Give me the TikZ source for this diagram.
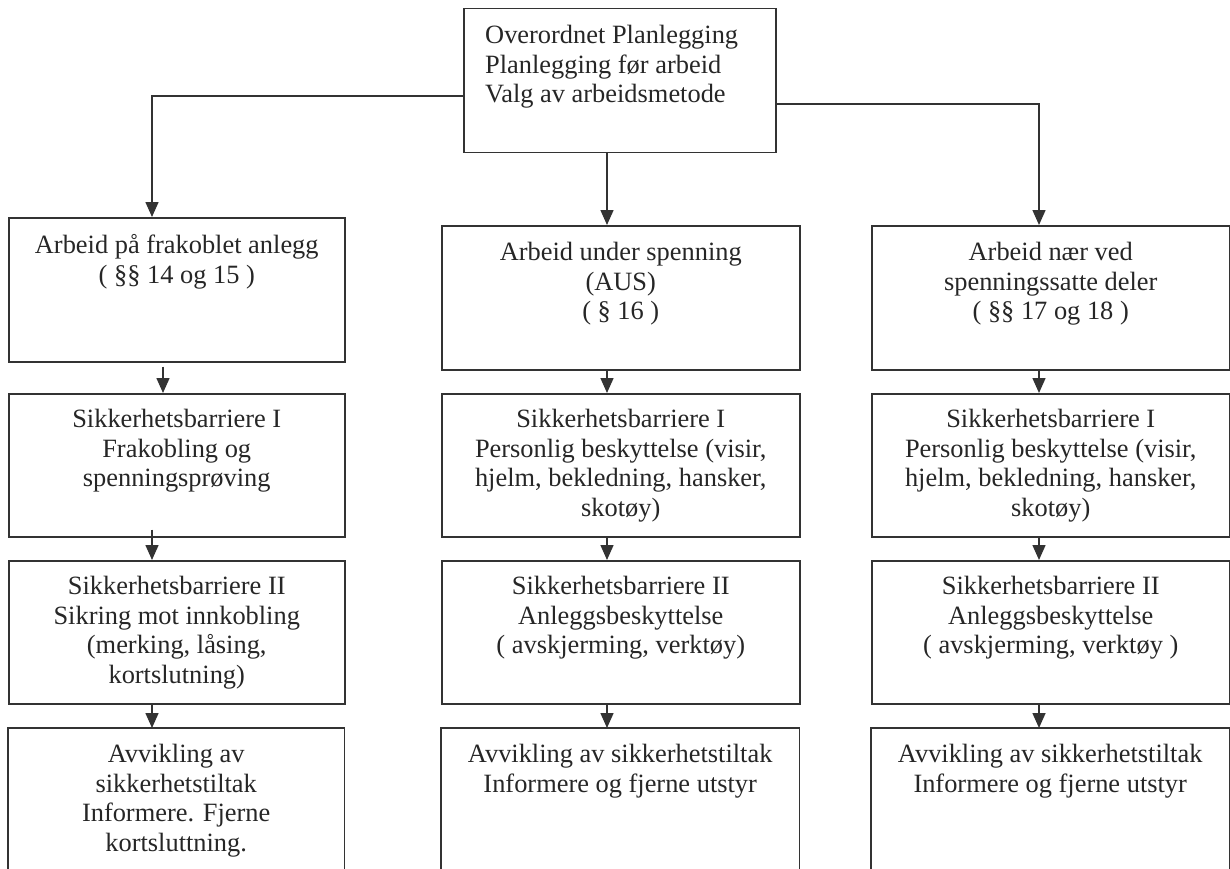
\documentclass[tikz,border=0pt]{standalone}
\usepackage{fontspec}
\setmainfont{Liberation Serif}
\usetikzlibrary{arrows.meta}
\begin{document}
\begin{tikzpicture}[x=1pt,y=-1pt,
  box/.style={draw=black!80,line width=1.5pt,inner sep=0,anchor=north west},
  txt/.style={inner sep=0,anchor=north,align=center,font=\fontsize{26.4}{29.7}\selectfont,text=black!85},
  arr/.style={draw=black!80,line width=1.5pt,-{Triangle[length=15pt,width=13pt]}}]
\useasboundingbox (0,0) rectangle (1230,869);
% boxes
\node[box,minimum width=312pt,minimum height=144pt] (top) at (463,8) {};
\node[box,minimum width=336pt,minimum height=144pt] (l1) at (8,217) {};
\node[box,minimum width=358pt,minimum height=144pt] (m1) at (441,225) {};
\node[box,minimum width=358pt,minimum height=144pt] (r1) at (871,225) {};
\node[box,minimum width=336pt,minimum height=143pt] (l2) at (8,393) {};
\node[box,minimum width=358pt,minimum height=143pt] (m2) at (441,393) {};
\node[box,minimum width=358pt,minimum height=143pt] (r2) at (871,393) {};
\node[box,minimum width=336pt,minimum height=143pt] (l3) at (8,560) {};
\node[box,minimum width=358pt,minimum height=143pt] (m3) at (441,560) {};
\node[box,minimum width=358pt,minimum height=143pt] (r3) at (871,560) {};
\node[inner sep=0,anchor=north west,minimum width=336pt,minimum height=141pt] (l4) at (8,728) {};
\node[inner sep=0,anchor=north west,minimum width=358pt,minimum height=141pt] (m4) at (441,728) {};
\node[inner sep=0,anchor=north west,minimum width=358pt,minimum height=141pt] (r4) at (871,728) {};
\foreach \b in {l4,m4,r4}
  \draw[draw=black!80,line width=1.5pt] ([yshift=-2pt]\b.south west) -- (\b.north west) -- (\b.north east) -- ([yshift=-2pt]\b.south east);
% texts
\node[txt,anchor=north west,align=left] (ttop) at ([xshift=22pt,yshift=-17pt]top.north west)
  {Overordnet Planlegging\\Planlegging før arbeid\\Valg av arbeidsmetode};
\node[txt] (tl1) at ([yshift=-17pt]l1.north) {Arbeid på frakoblet anlegg\\( §§ 14 og 15 )};
\node[txt] (tm1) at ([yshift=-17pt]m1.north) {Arbeid under spenning\\(AUS)\\( § 16 )};
\node[txt] (tr1) at ([yshift=-17pt]r1.north) {Arbeid nær ved\\spenningssatte deler\\( §§ 17 og 18 )};
\node[txt] (tl2) at ([yshift=-16pt]l2.north) {Sikkerhetsbarriere I\\Frakobling og\\spenningsprøving};
\node[txt] (tm2) at ([yshift=-16pt]m2.north) {Sikkerhetsbarriere I\\Personlig beskyttelse (visir,\\hjelm, bekledning, hansker,\\skotøy)};
\node[txt] (tr2) at ([yshift=-16pt]r2.north) {Sikkerhetsbarriere I\\Personlig beskyttelse (visir,\\hjelm, bekledning, hansker,\\skotøy)};
\node[txt] (tl3) at ([yshift=-16pt]l3.north) {Sikkerhetsbarriere II\\Sikring mot innkobling\\(merking, låsing,\\kortslutning)};
\node[txt] (tm3) at ([yshift=-16pt]m3.north) {Sikkerhetsbarriere II\\Anleggsbeskyttelse\\( avskjerming, verktøy)};
\node[txt] (tr3) at ([yshift=-16pt]r3.north) {Sikkerhetsbarriere II\\Anleggsbeskyttelse\\( avskjerming, verktøy )};
\node[txt] (tl4) at ([yshift=-16pt]l4.north) {Avvikling av\\sikkerhetstiltak\\Informere. Fjerne\\kortsluttning.};
\node[txt] (tm4) at ([yshift=-16pt]m4.north) {Avvikling av sikkerhetstiltak\\Informere og fjerne utstyr};
\node[txt] (tr4) at ([yshift=-16pt]r4.north) {Avvikling av sikkerhetstiltak\\Informere og fjerne utstyr};
% column coordinates
\coordinate (cl) at (152,0);
\coordinate (cla) at (163,0);
\coordinate (cm) at (607,0);
\coordinate (cr) at (1039,0);
\coordinate (ytl) at (0,96);
\coordinate (ytr) at (0,104);
% top connectors
\draw[arr] (top.west |- ytl) -| (l1.north -| cl);
\draw[arr] (top.south -| cm) -- (m1.north -| cm);
\draw[arr] (top.east |- ytr) -| (r1.north -| cr);
% left column
\draw[arr] ([yshift=-4pt]l1.south -| cla) -- (l2.north -| cla);
\draw[arr] ([yshift=8pt]l2.south -| cl) -- (l3.north -| cl);
\draw[arr] (l3.south -| cl) -- (l4.north -| cl);
% middle column
\draw[arr] (m1.south -| cm) -- (m2.north -| cm);
\draw[arr] (m2.south -| cm) -- (m3.north -| cm);
\draw[arr] (m3.south -| cm) -- (m4.north -| cm);
% right column
\draw[arr] (r1.south -| cr) -- (r2.north -| cr);
\draw[arr] (r2.south -| cr) -- (r3.north -| cr);
\draw[arr] (r3.south -| cr) -- (r4.north -| cr);
\end{tikzpicture}
\end{document}
